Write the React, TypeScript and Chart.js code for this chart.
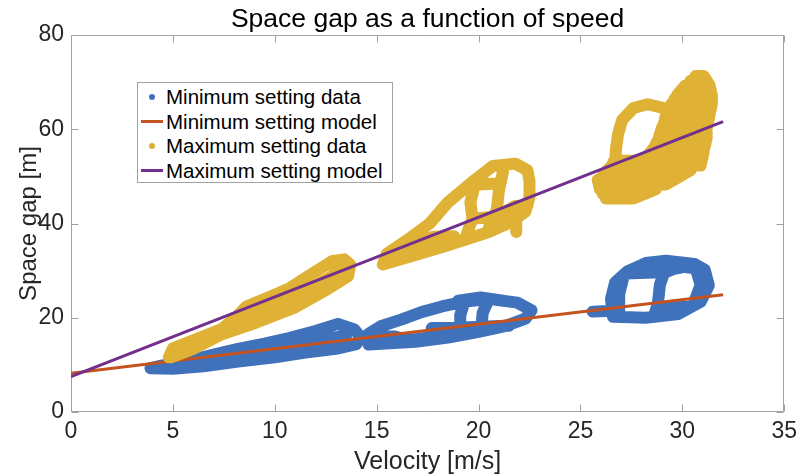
import React, { useEffect, useRef } from "react";
import { Chart, registerables } from "chart.js";

Chart.register(...registerables);

type Pt = [number, number];

const FONT = '"Liberation Sans", Arial, Helvetica, sans-serif';
const TITLE = "Space gap as a function of speed";
const X_LABEL = "Velocity [m/s]";
const Y_LABEL = "Space gap [m]";
const X_TICKS = [0, 5, 10, 15, 20, 25, 30, 35];
const Y_TICKS = [0, 20, 40, 60, 80];

const SERIES_NAMES = [
  "Minimum setting data",
  "Minimum setting model",
  "Maximum setting data",
  "Maximum setting model",
];
const COLORS = ["#3F72BB", "#C5531F", "#DFB134", "#722F8D"];

// fitted models (velocity -> space gap)
const modelVelocity = [0, 32];
const minModelGap = [8.2, 24.9];
const maxModelGap = [7.5, 61.6];

// Minimum setting data, traced trajectories [velocity, gap]
const minLowSpeed: Pt[][] = [
  [[3.9, 9.3], [5, 9.2], [6.5, 9.7], [8.2, 10.7], [10, 11.6], [11.5, 12.6], [13, 13.4], [14, 14.4], [14.2, 16], [13.9, 17.5], [13.1, 18.7], [12, 17.2], [10.7, 15.7], [9.5, 14.5], [8.2, 13.4], [7, 12.2], [5.8, 10.9], [4.5, 9.9], [3.9, 9.3]],
  [[5.5, 10.2], [7, 11], [8.5, 11.8], [10, 12.8], [11.5, 14.2], [12.5, 15.5], [13.5, 16.2]],
];
const minMidSpeed: Pt[][] = [
  [[14.6, 14.3], [16.9, 14.9], [18.5, 15.8], [20, 17], [21.3, 18.2], [22.3, 19.8], [22.6, 21.6], [21.9, 23.2], [20.5, 24.0], [19.3, 23.4], [18.2, 22.4], [17.2, 21.2], [16.2, 19.6], [15.2, 18.2], [14.6, 16.6], [14.6, 14.3]],
  [[15, 14.9], [17, 15.5], [18.8, 16.5], [20.6, 17.6]],
  [[14.8, 16.2], [15.9, 16.0], [16.5, 15.3]],
  [[17.7, 16.3], [17.7, 17.8], [19, 17.9], [20.1, 18.1], [21.5, 18.3]],
  [[19.1, 17.9], [19.1, 20.5], [19.3, 23.3]],
  [[20.15, 18.1], [20.2, 21], [20.5, 23.9]],
  [[21.2, 23.6], [20.1, 24.3], [19, 23.6]],
];
const minHighSpeed: Pt[][] = [
  [[26.6, 20.2], [28.2, 20.0], [29.8, 20.8], [30.9, 23.4], [31.3, 26.9], [31.1, 30.2], [30.6, 31.4], [29.2, 32.1], [28.2, 31.6], [27.3, 29.8], [26.7, 27.5], [26.5, 24], [26.6, 20.2]],
  [[25.6, 21.3], [26.6, 21.5]],
  [[26.9, 21], [26.9, 25], [27.1, 28.5]],
  [[27.8, 30.8], [29, 31.5], [30.4, 30.6]],
  [[30.6, 23.5], [30.9, 27], [30.7, 29.8]],
  [[28.6, 20.2], [28.8, 23], [28.9, 27], [29.1, 29.5], [29.6, 30.4], [30.6, 31.2]],
  [[29, 22], [30.4, 22.4]],
  [[27.2, 29.4], [28.6, 29.6]],
];

// Maximum setting data, traced trajectories [velocity, gap]
const maxLowSpeed: Pt[][] = [
  [[4.9, 11.6], [6, 13.4], [7.4, 16.5], [9.1, 19], [11, 22.2], [12.6, 26.1], [13.6, 28.8], [13.7, 31.3], [13.4, 32.4], [12.8, 32], [11.5, 28.4], [10.7, 26.2], [9.5, 24], [8.6, 22.4], [8.2, 20.5], [7.4, 17.6], [6, 15.2], [5, 13.5], [4.8, 11.6]],
  [[5.5, 12.7], [7, 16], [8.6, 20.2], [10, 22.8], [11.5, 25.5], [12.8, 28.8], [13.2, 30.6]],
];
const maxMidSpeed: Pt[][] = [
  [[15.3, 31.3], [16.9, 33.3], [18.5, 35.4], [20.5, 38.2], [21.6, 40.3], [22.3, 42.5], [22.5, 45.6], [22.5, 49], [22.4, 51.3], [21.8, 52.7], [20.7, 52.2], [19.8, 49.2], [18.5, 44.5], [17.6, 40], [16.5, 36.5], [15.5, 33.6], [15.3, 31.3]],
  [[15.6, 32.5], [16.8, 35.8], [17.8, 37.2], [18.8, 37.3]],
  [[21.85, 38.2], [21.85, 41]],
  [[19.4, 37.5], [19.7, 41], [19.6, 44.5], [19.8, 48]],
  [[20.5, 39], [20.9, 43], [21, 47], [21.2, 51]],
  [[19.7, 41], [20.9, 41.5], [21.8, 43.7], [22.4, 43.8]],
  [[19.8, 48.2], [20.9, 48.5]],
];
const maxHighSpeed: Pt[][] = [
  [[30.65, 71.3], [31.05, 71.3], [31.35, 69.3], [30.15, 69.3], [29.75, 67.3], [31.45, 67.3], [31.45, 65.3], [29.45, 65.3], [29.25, 63.3], [31.35, 63.3], [31.25, 61.3], [29.1, 61.3], [28.95, 59.3], [31.2, 59.3], [31.15, 57.3], [28.75, 57.3], [28.55, 55.3], [31.05, 55.3], [30.95, 53.3], [26.65, 53.3], [26.45, 51.3], [30.4, 51.3], [29.6, 49.3], [25.85, 49.3], [25.95, 47.3], [28.7, 47.3], [27.6, 45.3], [26.25, 45.3]],
  [[30.4, 70.3], [31.2, 70.3], [31.4, 68.3], [29.95, 68.3], [29.6, 66.3], [31.45, 66.3], [31.4, 64.3], [29.35, 64.3], [29.15, 62.3], [31.3, 62.3], [31.2, 60.3], [29.0, 60.3], [28.85, 58.3], [31.2, 58.3], [31.1, 56.3], [28.65, 56.3], [28.3, 54.3], [31.0, 54.3], [30.9, 52.3], [26.55, 52.3], [26.1, 50.3], [30.0, 50.3], [29.2, 48.3], [25.9, 48.3], [26.1, 46.3], [28.2, 46.3]],
  [[26.7, 53], [26.75, 56], [26.85, 59], [27.05, 62], [27.6, 64.5], [28.3, 65.3], [29, 64.6], [29.3, 63.5]],
];

const AXIS_COLOR = "#a2a2a2";
const TEXT_COLOR = "#262626";

function toPoints(strokes: Pt[][]) {
  const out: { x: number | null; y: number | null }[] = [];
  strokes.forEach((s, i) => {
    if (i > 0) out.push({ x: null, y: null });
    s.forEach(([x, y]) => out.push({ x, y }));
  });
  return out;
}

function dataSet(label: string, strokes: Pt[][], color: string, order: number) {
  return {
    label,
    data: toPoints(strokes),
    showLine: true,
    spanGaps: false,
    borderColor: color,
    backgroundColor: color,
    borderWidth: 12,
    borderCapStyle: "round",
    borderJoinStyle: "round",
    pointRadius: 0,
    pointHoverRadius: 0,
    order,
  };
}

function modelSet(label: string, xs: number[], ys: number[], color: string, order: number) {
  return {
    label,
    data: xs.map((x, i) => ({ x, y: ys[i] })),
    showLine: true,
    borderColor: color,
    backgroundColor: color,
    borderWidth: 3,
    pointRadius: 0,
    pointHoverRadius: 0,
    order,
  };
}

const axesBox = {
  id: "axesBox",
  beforeDatasetsDraw(chart: any) {
    const { ctx, chartArea, scales } = chart;
    const l = Math.round(chartArea.left) + 0.5;
    const r = Math.round(chartArea.right) - 0.5;
    const t = Math.round(chartArea.top) + 0.5;
    const b = Math.round(chartArea.bottom) - 0.5;
    const len = 7;
    ctx.save();
    ctx.strokeStyle = AXIS_COLOR;
    ctx.lineWidth = 1;
    ctx.beginPath();
    ctx.rect(l, t, r - l, b - t);
    X_TICKS.forEach((v) => {
      const p = Math.round(scales.x.getPixelForValue(v)) + 0.5;
      ctx.moveTo(p, b);
      ctx.lineTo(p, b - len);
      ctx.moveTo(p, t);
      ctx.lineTo(p, t + len);
    });
    Y_TICKS.forEach((v) => {
      const p = Math.round(scales.y.getPixelForValue(v)) + 0.5;
      ctx.moveTo(l, p);
      ctx.lineTo(l + len, p);
      ctx.moveTo(r, p);
      ctx.lineTo(r - len, p);
    });
    ctx.stroke();
    ctx.restore();
  },
};

const legendRows = [
  { name: SERIES_NAMES[0], color: COLORS[0], kind: "dot" },
  { name: SERIES_NAMES[1], color: COLORS[1], kind: "line" },
  { name: SERIES_NAMES[2], color: COLORS[2], kind: "dot" },
  { name: SERIES_NAMES[3], color: COLORS[3], kind: "line" },
];

export default function App() {
  const ref = useRef<HTMLCanvasElement | null>(null);

  useEffect(() => {
    if (!ref.current) return;
    const chart = new Chart(ref.current, {
      type: "scatter",
      data: {
        datasets: [
          dataSet(SERIES_NAMES[0], [...minLowSpeed, ...minMidSpeed, ...minHighSpeed], COLORS[0], 3),
          modelSet(SERIES_NAMES[1], modelVelocity, minModelGap, COLORS[1], 2),
          dataSet(SERIES_NAMES[2], [...maxLowSpeed, ...maxMidSpeed, ...maxHighSpeed], COLORS[2], 1),
          modelSet(SERIES_NAMES[3], modelVelocity, maxModelGap, COLORS[3], 0),
        ] as any,
      },
      options: {
        responsive: false,
        animation: false,
        events: [],
        layout: { padding: { left: 0, right: 15, top: 0, bottom: 0 } },
        plugins: {
          legend: { display: false },
          tooltip: { enabled: false },
          title: {
            display: true,
            text: TITLE,
            fullSize: false,
            color: "#000",
            font: { family: FONT, size: 26.5, weight: "normal", lineHeight: 1 },
            padding: { top: 6, bottom: 2.5 },
          },
        },
        scales: {
          x: {
            type: "linear",
            min: 0,
            max: 35,
            grid: { display: false, drawTicks: false },
            border: { display: false },
            afterBuildTicks: (s: any) => {
              s.ticks = X_TICKS.map((value) => ({ value }));
            },
            afterFit: (s: any) => {
              s.height = 64;
            },
            ticks: {
              color: TEXT_COLOR,
              padding: 6,
              maxRotation: 0,
              autoSkip: false,
              font: { family: FONT, size: 23 },
              callback: (v: any) => String(v),
            },
            title: {
              display: true,
              text: X_LABEL,
              color: TEXT_COLOR,
              font: { family: FONT, size: 25, lineHeight: 1 },
              padding: { top: 0, bottom: 1.5 },
            },
          },
          y: {
            type: "linear",
            min: 0,
            max: 80,
            grid: { display: false, drawTicks: false },
            border: { display: false },
            afterBuildTicks: (s: any) => {
              s.ticks = Y_TICKS.map((value) => ({ value }));
            },
            afterFit: (s: any) => {
              s.width = 71;
            },
            ticks: {
              color: TEXT_COLOR,
              padding: 7,
              autoSkip: false,
              font: { family: FONT, size: 23 },
              callback: (v: any) => String(v),
            },
            title: {
              display: true,
              text: Y_LABEL,
              color: TEXT_COLOR,
              font: { family: FONT, size: 24, lineHeight: 1 },
              padding: { top: 17, bottom: 0 },
            },
          },
        },
      } as any,
      plugins: [axesBox],
    });
    return () => chart.destroy();
  }, []);

  return (
    <div style={{ position: "absolute", left: 0, top: 0, width: 803, height: 476, background: "#fff" }}>
      <canvas ref={ref} width={803} height={476} style={{ display: "block", width: 803, height: 476 }} />
      <div
        style={{
          position: "absolute",
          left: 137,
          top: 82,
          width: 256,
          height: 101,
          boxSizing: "border-box",
          border: `1px solid ${AXIS_COLOR}`,
          background: "#fff",
          fontFamily: FONT,
          fontSize: 20.5,
          color: "#000",
        }}
      >
        {legendRows.map((row, i) => (
          <div
            key={row.name}
            style={{
              position: "absolute",
              left: 0,
              top: 2 + i * 24.5,
              height: 24.5,
              width: "100%",
              display: "flex",
              alignItems: "center",
            }}
          >
            {row.kind === "dot" ? (
              <span
                style={{
                  position: "absolute",
                  left: 11,
                  width: 6,
                  height: 6,
                  borderRadius: 3,
                  background: row.color,
                }}
              />
            ) : (
              <span
                style={{
                  position: "absolute",
                  left: 3,
                  width: 22,
                  height: 3,
                  background: row.color,
                }}
              />
            )}
            <span style={{ position: "absolute", left: 28, whiteSpace: "nowrap", lineHeight: "24.5px" }}>{row.name}</span>
          </div>
        ))}
      </div>
    </div>
  );
}
